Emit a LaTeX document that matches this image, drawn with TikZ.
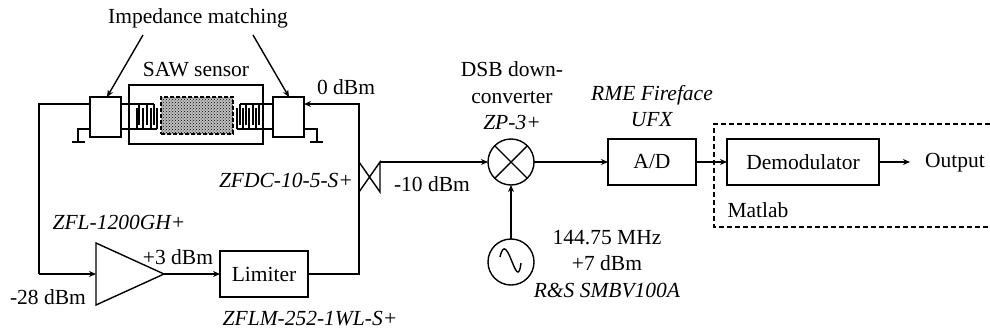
\documentclass[tikz,border=0pt]{standalone}
\usepackage{fontspec}
\setmainfont{Liberation Serif}
\usetikzlibrary{arrows.meta,patterns,shapes.geometric}
\tikzset{
  blockbox/.style={draw,rectangle,inner sep=0pt,outer sep=0pt,minimum width=88pt,minimum height=46pt},
  matchbox/.style={draw,rectangle,inner sep=0pt,outer sep=0pt,minimum width=31pt,minimum height=40pt},
  roundbox/.style={draw,circle,inner sep=0pt,outer sep=0pt,minimum size=46pt},
  note/.style={inner sep=0pt,align=center}
}
\begin{document}
\begin{tikzpicture}[x=1pt,y=-1pt,line width=1.4pt,>={Stealth[length=7pt,width=6pt]},
    every node/.append style={font=\fontsize{21.5}{26.5}\selectfont}]
  \useasboundingbox (0,0) rectangle (990,335);

  \node[draw,rectangle,inner sep=0pt,outer sep=0pt,minimum width=134pt,minimum height=59pt] (saw) at (196,114.5) {};
  \node[draw,rectangle,dash pattern=on 4pt off 2pt,preaction={fill=black!25},pattern=crosshatch dots,pattern color=black,inner sep=0pt,outer sep=0pt,minimum width=72pt,minimum height=37pt] (film) at (197,115.5) {};
  \node[matchbox] (matchl) at (105.5,117) {};
  \node[matchbox] (matchr) at (288.5,117) {};
  \node[blockbox] (limiter) at (264,274) {Limiter};
  \node[blockbox] (adc) at (652,162) {A/D};
  \node[blockbox,minimum width=152pt] (demod) at (803,162) {Demodulator};
  \node[draw,isosceles triangle,isosceles triangle stretches,inner sep=0pt,outer sep=0pt,
    minimum width=62pt,minimum height=68pt,anchor=apex] (amp) at (164,274) {};
  \node[roundbox] (mixer) at (511,162) {};
  \node[roundbox] (osc) at (511,262) {};

  \node[note] (impedance) at (198,18) {Impedance matching};
  \node[note] (sawlabel) at (196,70) {SAW sensor};
  \node[note] (topdbm) at (346,87) {0 dBm};
  \node[note] (coupler) at (286,180) {\textit{ZFDC-10-5-S+}};
  \node[note] (tendbm) at (432,184) {-10 dBm};
  \node[note] (mixerlabel) at (512,96) {DSB down-\\converter\\\textit{ZP-3+}};
  \node[note] (adclabel) at (652,106) {\textit{RME Fireface}\\\textit{UFX}};
  \node[note] (synth) at (607,264) {144.75 MHz\\+7 dBm\\\textit{R\&S SMBV100A}};
  \node[note] (amplabel) at (119,222) {\textit{ZFL-1200GH+}};
  \node[note] (ampdbm) at (178,257) {+3 dBm};
  \node[note] (indbm) at (48,297) {-28 dBm};
  \node[note] (limlabel) at (310,319) {\textit{ZFLM-252-1WL-S+}};
  \node[note] (output) at (955,163) {Output};
  \node[note] (matlab) at (758,210) {Matlab};

  \coordinate (lefttop) at (90,104);
  \coordinate (righttop) at (304,104);
  \coordinate (leftbot) at (90,129);
  \coordinate (rightbot) at (304,129);
  \coordinate (busl) at (39,104);
  \coordinate (busr) at (359,104);
  \coordinate (cplt) at (380,162);
  \coordinate (cplb) at (380,192);
  \coordinate (cpla) at (359,162);
  \coordinate (cplc) at (359,192);
  \coordinate (arrowl) at (143,35);
  \coordinate (arrowr) at (253,35);
  \coordinate (gndl) at (78,142);
  \coordinate (gndr) at (317,142);
  \coordinate (dasha) at (990,124);
  \coordinate (dashb) at (714,124);
  \coordinate (dashc) at (714,227);
  \coordinate (dashd) at (990,227);

  \draw[->] (arrowl) -- (107,97);
  \draw[->] (arrowr) -- (289,97);

  \draw (lefttop) -- (busl) -- (busl |- amp.lower side) coordinate (ampin);
  \draw[->] (ampin) -- (amp.lower side);
  \draw[->] (amp.apex) -- (limiter.west);
  \draw[->] (limiter.east) -| (busr) -- (righttop);
  \draw (cpla) -- (cplb) -- (cplt) -- (cplc);
  \draw[->] (cplt) -- (mixer.west);
  \draw[->] (mixer.east) -- (adc.west);
  \draw[->] (adc.east) -- (demod.west);
  \draw[->] (demod.east) -- (910,162);
  \draw[->] (osc.north) -- (mixer.south);
  \draw (mixer.45) -- (mixer.225);
  \draw (mixer.135) -- (mixer.315);
  \draw ([shift={(-11,-5)}]osc.center) .. controls ([shift={(-4,-36)}]osc.center) and ([shift={(6,34)}]osc.center) .. ([shift={(10,1)}]osc.center);
  \draw[dash pattern=on 5pt off 3pt] (dasha) -- (dashb) -- (dashc) -- (dashd);

  \draw (leftbot) -- (gndl |- leftbot) -- (gndl);
  \draw (72,142) -- (85,142);
  \draw (rightbot) -- (gndr |- rightbot) -- (gndr);
  \draw (310,142) -- (323,142);

  \begin{scope}[line width=1.1pt]
    \draw (121,104) -- (154,104);
    \draw (121,129) -- (157,129);
    \draw (139,104) -- (139,125);
    \draw (147,104) -- (147,125);
    \draw (154,104) -- (154,125);
    \draw (137,129) -- (137,108);
    \draw (143,129) -- (143,108);
    \draw (151,129) -- (151,108);
    \draw (157,129) -- (157,108);
  \end{scope}
  \begin{scope}[line width=1.1pt]
    \draw (273,104) -- (240,104);
    \draw (273,129) -- (237,129);
    \draw (240,104) -- (240,125);
    \draw (246,104) -- (246,125);
    \draw (253,104) -- (253,125);
    \draw (259,104) -- (259,125);
    \draw (237,129) -- (237,108);
    \draw (243,129) -- (243,108);
    \draw (249,129) -- (249,108);
    \draw (256,129) -- (256,108);
  \end{scope}
\end{tikzpicture}
\end{document}
